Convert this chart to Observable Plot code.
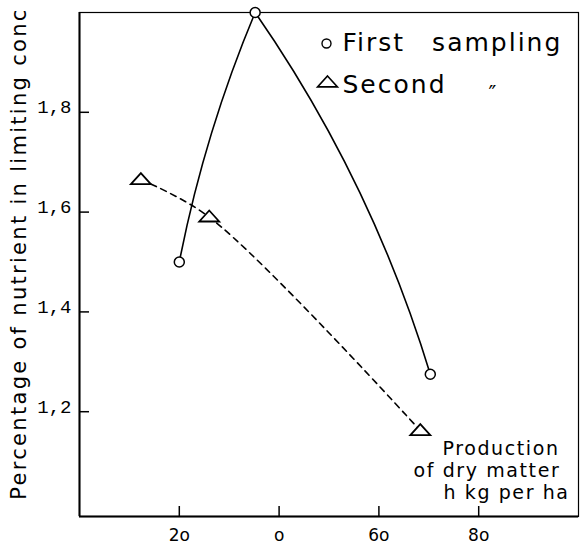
<!DOCTYPE html>
<html>
<head>
<meta charset="utf-8">
<script src="https://cdn.jsdelivr.net/npm/d3@7"></script>
<script src="https://cdn.jsdelivr.net/npm/@observablehq/plot@0.6"></script>
<style>
  html, body { margin: 0; padding: 0; background: #fff; }
</style>
</head>
<body>
<div id="chart"></div>
<script>
// Production of dry matter (x) vs percentage of nutrient in limiting conc (y)
const firstX = [20, 35.2, 70.3];
const firstY = [1.50, 2.00, 1.275];
const secondX = [12.3, 26.0, 68.3];
const secondY = [1.665, 1.59, 1.162];

const xTicks = [20, 40, 60, 80];
const xTickLabels = ["2o", "o", "6o", "8o"];
const yTicks = [1.2, 1.4, 1.6, 1.8];
const yTickLabels = ["1,2", "1,4", "1,6", "1,8"];

const yLabel = "Percentage of nutrient in limiting conc";
const legendFirst = "First\u2003sampling";
const legendSecond = "Second";
const ditto = "\u2033";
const noteLines = ["Production", "of dry matter", "h kg per ha"];

const first = firstX.map((x, i) => ({x, y: firstY[i]}));
const second = secondX.map((x, i) => ({x, y: secondY[i]}));

// flat open triangle symbol
const flatTriangle = {
  draw(ctx, size) {
    const w = Math.sqrt(size) * 1.25;
    const h = w * 0.55;
    ctx.moveTo(0, -h * 0.6);
    ctx.lineTo(w / 2, h * 0.4);
    ctx.lineTo(-w / 2, h * 0.4);
    ctx.closePath();
  }
};

// hand-drawn style curve: each segment a gentle arc of constant curvature
function arcCurve(R) {
  return (context) => {
    let x0, y0, n = 0;
    return {
      areaStart() {}, areaEnd() {},
      lineStart() { n = 0; },
      lineEnd() {},
      point(x, y) {
        x = +x; y = +y;
        if (n === 0) context.moveTo(x, y);
        else {
          const dx = x - x0, dy = y - y0, L = Math.hypot(dx, dy);
          const off = (L * L) / (4 * R);
          const nx = dy / L, ny = -dx / L;
          context.quadraticCurveTo((x0 + x) / 2 + nx * off, (y0 + y) / 2 + ny * off, x, y);
        }
        x0 = x; y0 = y; n++;
      }
    };
  };
}

const font = "DejaVu Sans";

const chart = Plot.plot({
  width: 581,
  height: 550,
  marginLeft: 79,
  marginRight: 3,
  marginTop: 12,
  marginBottom: 34,
  style: {background: "#fff", color: "#000"},
  x: {domain: [0, 100]},
  y: {domain: [0.99, 2.0]},
  marks: [
    Plot.frame({stroke: "#000", strokeWidth: 1.2}),
    Plot.ruleX([0], {stroke: "#000", strokeWidth: 2}),
    Plot.ruleY([0.99], {stroke: "#000", strokeWidth: 2}),
    Plot.axisX({
      ticks: xTicks,
      tickSize: -10,
      tickPadding: 22,
      tickFormat: (d) => xTickLabels[xTicks.indexOf(d)],
      fontFamily: font,
      fontSize: 17,
      strokeWidth: 1.5,
      label: null
    }),
    // inward tick marks on the y axis
    Plot.axisY({
      ticks: yTicks,
      tickSize: -10,
      tickFormat: () => "",
      strokeWidth: 1.5,
      label: null
    }),
    // y tick labels, baseline at the tick
    Plot.axisY({
      ticks: yTicks,
      tickSize: 0,
      tickPadding: 8,
      tickFormat: (d) => yTickLabels[yTicks.indexOf(d)],
      fontFamily: "Liberation Mono",
      fontSize: 19,
      dy: -5,
      label: null
    }),
    Plot.text([yLabel], {
      frameAnchor: "left",
      rotate: -90,
      dx: -54,
      dy: -11,
      textAnchor: "middle",
      lineAnchor: "bottom",
      fontFamily: font,
      fontSize: 21,
      fill: "#000"
    }),
    Plot.line(first, {x: "x", y: "y", curve: arcCurve(1280), stroke: "#000", strokeWidth: 1.6}),
    Plot.line(second, {x: "x", y: "y", curve: "catmull-rom", stroke: "#000", strokeWidth: 1.6, strokeDasharray: "6,5"}),
    Plot.dot(first, {x: "x", y: "y", r: 5, symbol: "circle", fill: "#fff", stroke: "#000", strokeWidth: 1.5}),
    Plot.dot(second, {x: "x", y: "y", r: 9, symbol: flatTriangle, fill: "#fff", stroke: "#000", strokeWidth: 1.8}),
    // legend
    Plot.dot([0], {frameAnchor: "top-left", dx: 247, dy: 31, r: 4.5, symbol: "circle", fill: "#fff", stroke: "#000", strokeWidth: 1.4}),
    Plot.dot([0], {frameAnchor: "top-left", dx: 248, dy: 70, r: 9, symbol: flatTriangle, fill: "#fff", stroke: "#000", strokeWidth: 1.6}),
    Plot.text([legendFirst], {frameAnchor: "top-left", dx: 263, dy: 38, textAnchor: "start", lineAnchor: "bottom", fontFamily: font, fontSize: 25, fill: "#000"}),
    Plot.text([legendSecond], {frameAnchor: "top-left", dx: 263, dy: 80, textAnchor: "start", lineAnchor: "bottom", fontFamily: font, fontSize: 25, fill: "#000"}),
    Plot.text([ditto], {frameAnchor: "top-left", dx: 409, dy: 88, textAnchor: "start", lineAnchor: "bottom", fontFamily: font, fontSize: 21, fill: "#000"}),
    // note
    Plot.text([noteLines[0]], {frameAnchor: "top-left", dx: 363, dy: 442, textAnchor: "start", lineAnchor: "bottom", fontFamily: font, fontSize: 19, fill: "#000"}),
    Plot.text([noteLines[1]], {frameAnchor: "top-left", dx: 334, dy: 464, textAnchor: "start", lineAnchor: "bottom", fontFamily: font, fontSize: 19, fill: "#000"}),
    Plot.text([noteLines[2]], {frameAnchor: "top-left", dx: 364, dy: 486, textAnchor: "start", lineAnchor: "bottom", fontFamily: font, fontSize: 19, fill: "#000"})
  ]
});

// letter spacing for the lettering-style texts
const spacing = new Map([
  [yLabel, 2.3],
  [legendFirst, 2],
  [legendSecond, 2],
  [noteLines[0], 1.6],
  [noteLines[1], 1.6],
  [noteLines[2], 1.6]
]);
d3.select(chart).selectAll("text").each(function () {
  const s = spacing.get(this.textContent);
  if (s !== undefined) this.setAttribute("letter-spacing", s);
});

document.getElementById("chart").appendChild(chart);
</script>
</body>
</html>
